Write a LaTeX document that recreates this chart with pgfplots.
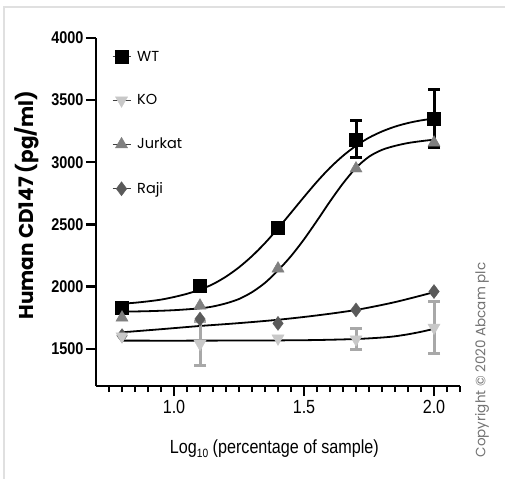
\documentclass[border=0pt]{standalone}
\usepackage{pgfplots}
\pgfplotsset{compat=1.18}
\usepackage{fontspec}
\setmainfont{Poppins}
\newfontfamily\tickfont[FakeStretch=0.85]{Liberation Sans}
\definecolor{koc}{HTML}{C8C8C8}
\definecolor{koe}{HTML}{A8A8A8}
\definecolor{jur}{HTML}{808080}
\definecolor{raj}{HTML}{5A5A5A}
\begin{document}
\begin{tikzpicture}[x=1pt,y=1pt]
\useasboundingbox (0,0) rectangle (505,479);
\fill[white] (0,0) rectangle (505,479);
\draw[line width=2pt,black!12] (4,0) -- (4,472) -- (505,472);
\begin{axis}[
  at={(96pt,93pt)}, anchor=south west,
  scale only axis, width=364pt, height=348pt,
  xmin=0.7, xmax=2.1, ymin=1200, ymax=4000,
  axis lines=left, axis line style={line width=2.4pt, -},
  tick align=outside,
  major tick length=10pt, minor tick length=6pt,
  every tick/.style={line width=2.2pt, black},
  xtick={1,1.5,2}, xticklabels={1.0,1.5,2.0},
  minor xtick={0.75,0.8,0.85,0.9,0.95,1.05,1.1,1.15,1.2,1.25,1.3,1.35,1.4,1.45,1.55,1.6,1.65,1.7,1.75,1.8,1.85,1.9,1.95,2.05,2.1},
  ytick={1500,2000,2500,3000,3500,4000},
  /pgf/number format/assume math mode=true,
  /pgf/number format/set thousands separator={},
  yticklabel style={font=\tickfont\bfseries\fontsize{17}{17}\selectfont, xshift=1pt},
  xticklabel style={font=\tickfont\fontsize{19}{19}\selectfont, yshift=-1pt},
  xlabel={Log\raisebox{-3.5pt}{\fontsize{12}{12}\selectfont 10} (percentage of sample)},
  xlabel style={font=\tickfont\fontsize{19}{19}\selectfont, at={(axis description cs:0.49,-0.18)}, anchor=center},
  ylabel={Human CD147 (pg/ml)},
  ylabel style={font=\bfseries\fontsize{20}{20}\selectfont, at={(axis description cs:-0.19,0.52)}, anchor=center},
  clip=false,
  legend style={draw=none, fill=none, at={(axis description cs:0.035,0.975)}, anchor=north west,
    row sep=28pt, font=\fontsize{14.5}{14.5}\selectfont},
  legend cell align=left,
  legend image code/.code={%
    \draw[black!75, line width=1.2pt, mark=none] (0.3cm-9pt,0) -- (0.3cm+9pt,0);
    \path[#1] plot coordinates {(0.3cm,0cm)};
    \path[draw=none, fill=none] (0,0) (0.78cm,0);},
]
\addlegendimage{only marks, mark=square*, mark size=6.5pt, black, mark options={fill=black, draw=black}}
\addlegendentry{WT}
\addlegendimage{only marks, mark=triangle*, mark size=7pt, koc, mark options={fill=koc, draw=koc, rotate=180}}
\addlegendentry{KO}
\addlegendimage{only marks, mark=triangle*, mark size=7pt, jur, mark options={fill=jur, draw=jur}}
\addlegendentry{Jurkat}
\addlegendimage{only marks, mark=diamond*, mark size=7pt, raj, mark options={fill=raj, draw=raj}}
\addlegendentry{Raji}
% fitted curves
\addplot[black, line width=1.8pt, smooth, forget plot] coordinates {
(0.8,1862)(0.85,1870)(0.9,1881)(0.95,1895)(1.0,1916)(1.05,1942)(1.1,1975)(1.15,2020)(1.2,2080)(1.25,2155)(1.3,2245)(1.35,2350)(1.4,2468)(1.45,2594)(1.5,2721)(1.55,2844)(1.6,2956)(1.65,3052)(1.7,3133)(1.75,3198)(1.8,3248)(1.85,3287)(1.9,3316)(1.95,3337)(2.0,3352)};
\addplot[black, line width=1.8pt, smooth, forget plot] coordinates {
(0.8,1798)(0.9,1802)(1.0,1810)(1.1,1825)(1.15,1840)(1.2,1865)(1.25,1900)(1.3,1955)(1.35,2030)(1.4,2130)(1.45,2245)(1.5,2380)(1.55,2530)(1.6,2685)(1.65,2830)(1.7,2955)(1.75,3045)(1.8,3100)(1.85,3132)(1.9,3155)(1.95,3170)(2.0,3182)};
\addplot[black, line width=1.8pt, smooth, forget plot] coordinates {
(0.8,1632)(0.95,1657)(1.1,1683)(1.25,1706)(1.4,1733)(1.55,1768)(1.7,1812)(1.85,1875)(2.0,1955)};
\addplot[black, line width=1.8pt, smooth, forget plot] coordinates {
(0.8,1565)(1.1,1565)(1.4,1567)(1.55,1570)(1.7,1578)(1.8,1590)(1.85,1600)(1.9,1616)(1.95,1636)(2.0,1660)};
% error bars
\addplot[black, mark=none, only marks, forget plot,
  error bars/.cd, y dir=both, y explicit,
  error bar style={line width=3pt, black},
  error mark options={rotate=90, mark size=6pt, line width=3pt, black}]
  coordinates {(1.7,3185) +- (0,150) (2.0,3350) +- (0,233)};
\addplot[koe, mark=none, only marks, forget plot,
  error bars/.cd, y dir=both, y explicit,
  error bar style={line width=3pt, koe},
  error mark options={rotate=90, mark size=6pt, line width=3pt, koe}]
  coordinates {(1.1,1540) +- (0,177) (1.7,1576) +- (0,85) (2.0,1670) +- (0,210)};
% markers
\addplot[only marks, mark=square*, mark size=6.5pt, black, mark options={fill=black, draw=black}, forget plot]
  coordinates {(0.8,1833)(1.1,2005)(1.4,2476)(1.7,3185)(2.0,3350)};
\addplot[only marks, mark=triangle*, mark size=7pt, jur, mark options={fill=jur, draw=jur}, forget plot]
  coordinates {(0.8,1750)(1.1,1847)(1.4,2145)(1.7,2950)(2.0,3158)};
\addplot[only marks, mark=diamond*, mark size=7pt, raj, mark options={fill=raj, draw=raj}, forget plot]
  coordinates {(0.8,1605)(1.1,1739)(1.4,1704)(1.7,1812)(2.0,1960)};
\addplot[only marks, mark=triangle*, mark size=7pt, koc, mark options={fill=koc, draw=koc, rotate=180}, forget plot]
  coordinates {(0.8,1600)(1.1,1540)(1.4,1583)(1.7,1576)(2.0,1670)};
\end{axis}
\node[rotate=90, text=black!55, font=\fontsize{13.5}{13.5}\selectfont] at (482,119) {Copyright \textcopyright{} 2020 Abcam plc};
\end{tikzpicture}
\end{document}
